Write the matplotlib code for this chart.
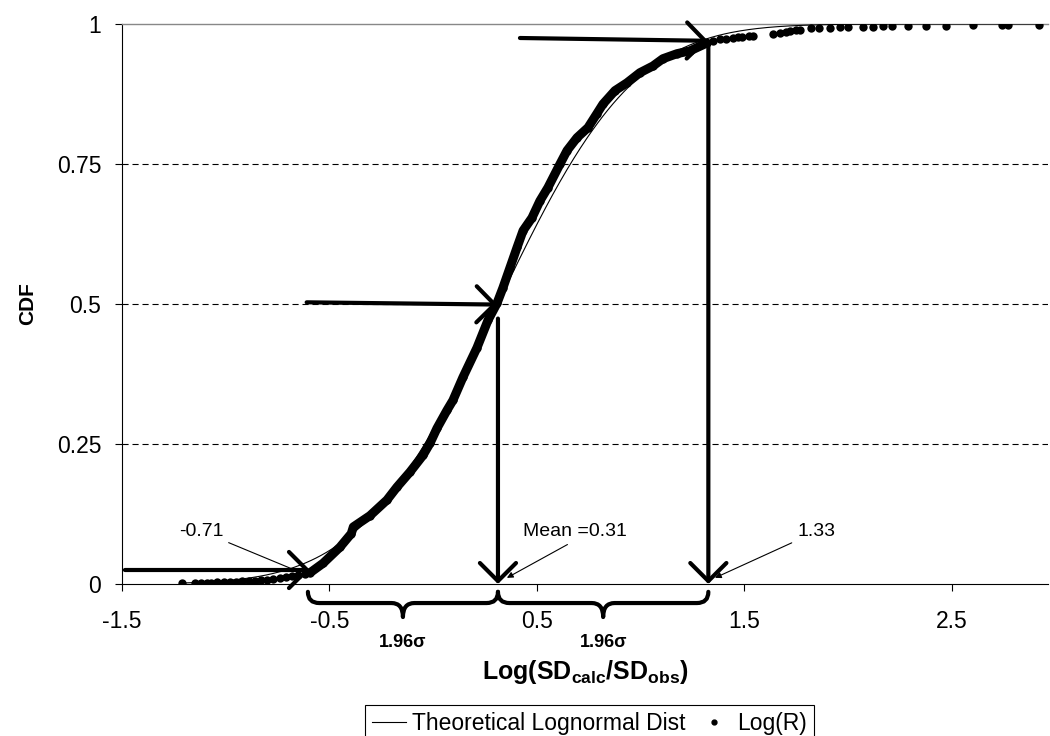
import math
import numpy as np
import matplotlib
matplotlib.use('Agg')
import matplotlib.pyplot as plt
from matplotlib.lines import Line2D
from matplotlib.path import Path
from matplotlib.patches import PathPatch

plt.rcParams['font.family'] = ['Liberation Sans', 'DejaVu Sans']
plt.rcParams['mathtext.fontset'] = 'custom'
plt.rcParams['mathtext.rm'] = 'Liberation Sans'
plt.rcParams['mathtext.bf'] = 'Liberation Sans:bold'

# observed Log(R) values with their cumulative fraction
tail_lo_x = [-1.21, -1.15, -1.12, -1.09, -1.07, -1.04, -1.01, -0.98, -0.95, -0.92,
             -0.89, -0.86, -0.83, -0.80, -0.77, -0.74, -0.71, -0.68, -0.65, -0.62]
tail_lo_cdf = [0.001, 0.001, 0.002, 0.002, 0.002, 0.003, 0.003, 0.004, 0.004, 0.005,
               0.005, 0.006, 0.007, 0.008, 0.009, 0.011, 0.012, 0.014, 0.016, 0.018]

core_x = [-0.594, -0.531, -0.449, -0.395, -0.385, -0.305, -0.223, -0.175, -0.112, -0.049,
          -0.016, 0.018, 0.066, 0.095, 0.143, 0.211, 0.264, 0.307, 0.336, 0.370,
          0.404, 0.433, 0.476, 0.514, 0.553, 0.611, 0.645, 0.693, 0.746, 0.789,
          0.818, 0.876, 0.934, 0.996, 1.059, 1.107, 1.175, 1.237, 1.319]
core_cdf = [0.020, 0.037, 0.066, 0.090, 0.102, 0.122, 0.150, 0.173, 0.200, 0.230,
            0.251, 0.278, 0.310, 0.328, 0.369, 0.422, 0.471, 0.501, 0.529, 0.565,
            0.601, 0.631, 0.654, 0.684, 0.708, 0.750, 0.774, 0.797, 0.815, 0.840,
            0.857, 0.881, 0.895, 0.913, 0.925, 0.938, 0.947, 0.952, 0.966]

tail_hi_x = [1.35, 1.38, 1.41, 1.445, 1.47, 1.49, 1.52, 1.54, 1.64, 1.67,
             1.70, 1.72, 1.75, 1.77, 1.82, 1.86, 1.91, 1.96, 2.00, 2.07,
             2.12, 2.17, 2.21, 2.29, 2.375, 2.47, 2.60, 2.74, 2.77, 2.92]
tail_hi_cdf = [0.970, 0.973, 0.974, 0.975, 0.976, 0.977, 0.978, 0.979, 0.982, 0.984,
               0.986, 0.988, 0.989, 0.990, 0.992, 0.993, 0.993, 0.994, 0.994, 0.995,
               0.995, 0.996, 0.996, 0.996, 0.997, 0.997, 0.998, 0.998, 0.999, 0.999]

# fitted distribution in log space
mean_log = 0.31
upper_log = 1.33
sigma_log = (upper_log - mean_log) / 1.96

x_ticks = [-1.5, -0.5, 0.5, 1.5, 2.5]
y_ticks = [0, 0.25, 0.5, 0.75, 1]
y_tick_labels = ['0', '0.25', '0.5', '0.75', '1']

fig = plt.figure(figsize=(10.5, 7.36), dpi=100)
ax = fig.add_axes([122 / 1050, 152 / 736, 926 / 1050, 560 / 736])
ax.set_xlim(-1.5, 2.963)
ax.set_ylim(0, 1)

for yv in y_ticks[1:-1]:
    ax.axhline(yv, color='k', lw=0.8, ls=(0, (5.5, 3.5)), zorder=1)

# theoretical curve
xs = np.linspace(min(tail_lo_x), max(tail_hi_x), 500)
theo = [0.5 * (1 + math.erf((v - mean_log) / (sigma_log * math.sqrt(2)))) for v in xs]
ax.plot(xs, theo, color='k', lw=0.8, zorder=3)

# observed points
ax.plot(tail_lo_x, tail_lo_cdf, 'o', color='k', ms=6, mew=0, zorder=4)
ax.plot(core_x, core_cdf, '-o', color='k', lw=6.5, ms=6, mew=0,
        solid_joinstyle='round', solid_capstyle='round', zorder=4)
ax.plot(tail_hi_x, tail_hi_cdf, 'o', color='k', ms=6, mew=0, zorder=4)

ax.set_xticks(x_ticks)
ax.set_xticklabels([f'{v:g}' for v in x_ticks])
ax.set_yticks(y_ticks)
ax.set_yticklabels(y_tick_labels)
ax.tick_params(axis='both', direction='out', length=5, width=0.8, labelsize=16.5, color='k')
ax.tick_params(axis='x', pad=14)
ax.tick_params(axis='y', pad=10)
ax.spines['right'].set_visible(False)
ax.spines['top'].set_color('#888888')
ax.spines['top'].set_linewidth(1.0)
for s in ('left', 'bottom'):
    ax.spines[s].set_linewidth(0.8)

ax.set_xlabel(r'$\mathbf{Log(SD_{calc}/SD_{obs})}$', fontsize=18)
ax.xaxis.set_label_coords(0.5, -0.133)
ax.set_ylabel('CDF', fontsize=15, fontweight='bold')
ax.yaxis.set_label_coords(-0.092, 0.5)

# thick arrows reading quantiles off the curve
big_arrow = dict(arrowstyle='->,head_length=0.5,head_width=0.5', lw=3, color='k',
                 mutation_scale=26, shrinkA=0, shrinkB=0)
arrows = [((-1.486, 0.025), (-0.594, 0.025)),
          ((-0.61, 0.503), (0.31, 0.499)),
          ((0.312, 0.474), (0.312, 0.0)),
          ((0.418, 0.975), (1.324, 0.970)),
          ((1.326, 0.964), (1.326, 0.0))]
for start, tip in arrows:
    ax.annotate('', xy=tip, xytext=start, arrowprops=big_arrow, annotation_clip=False, zorder=6)

# callout labels
ax.annotate('-0.71', xy=(-0.642, 0.021), xytext=(-1.119, 0.093), fontsize=14,
            ha='center', va='center',
            arrowprops=dict(arrowstyle='-', lw=0.8, color='k', relpos=(1.0, 0.0),
                            shrinkA=2, shrinkB=0))
ax.annotate('Mean =0.31', xy=(0.355, 0.011), xytext=(0.683, 0.093), fontsize=14,
            ha='center', va='center',
            arrowprops=dict(arrowstyle='-|>', lw=0.8, color='k', relpos=(0.5, 0.0),
                            mutation_scale=9, shrinkA=2, shrinkB=0))
ax.annotate('1.33', xy=(1.358, 0.011), xytext=(1.845, 0.093), fontsize=14,
            ha='center', va='center',
            arrowprops=dict(arrowstyle='-|>', lw=0.8, color='k', relpos=(0.0, 0.0),
                            mutation_scale=9, shrinkA=2, shrinkB=0))


def brace(ax, x0, x1, y_end=-0.014, y_flat=-0.034, y_tip=-0.059, r=0.055):
    xm = 0.5 * (x0 + x1)
    verts = [(x0, y_end), (x0, y_flat), (x0 + r, y_flat),
             (xm - r, y_flat), (xm, y_flat), (xm, y_tip),
             (xm, y_flat), (xm + r, y_flat),
             (x1 - r, y_flat), (x1, y_flat), (x1, y_end)]
    codes = [Path.MOVETO, Path.CURVE3, Path.CURVE3,
             Path.LINETO, Path.CURVE3, Path.CURVE3,
             Path.CURVE3, Path.CURVE3,
             Path.LINETO, Path.CURVE3, Path.CURVE3]
    ax.add_patch(PathPatch(Path(verts, codes), fill=False, lw=3, ec='k',
                           capstyle='round', joinstyle='round', clip_on=False))
    ax.text(xm, -0.104, '1.96σ', fontsize=13, fontweight='bold', ha='center', va='center')


brace(ax, -0.604, 0.312)
brace(ax, 0.312, 1.326)

handles = [Line2D([], [], color='k', lw=0.8),
           Line2D([], [], ls='', marker='o', color='k', ms=3.5)]
leg = fig.legend(handles, ['Theoretical Lognormal Dist', 'Log(R)'], loc='upper left',
                 bbox_to_anchor=(365 / 1050, 31 / 736), ncol=2, fontsize=16.5,
                 frameon=True, fancybox=False, edgecolor='k', framealpha=1,
                 handlelength=1.5, handletextpad=0.25, columnspacing=0.5,
                 borderpad=0.3, borderaxespad=0)
leg.get_frame().set_linewidth(0.8)

fig.savefig('out.png', dpi=100)
